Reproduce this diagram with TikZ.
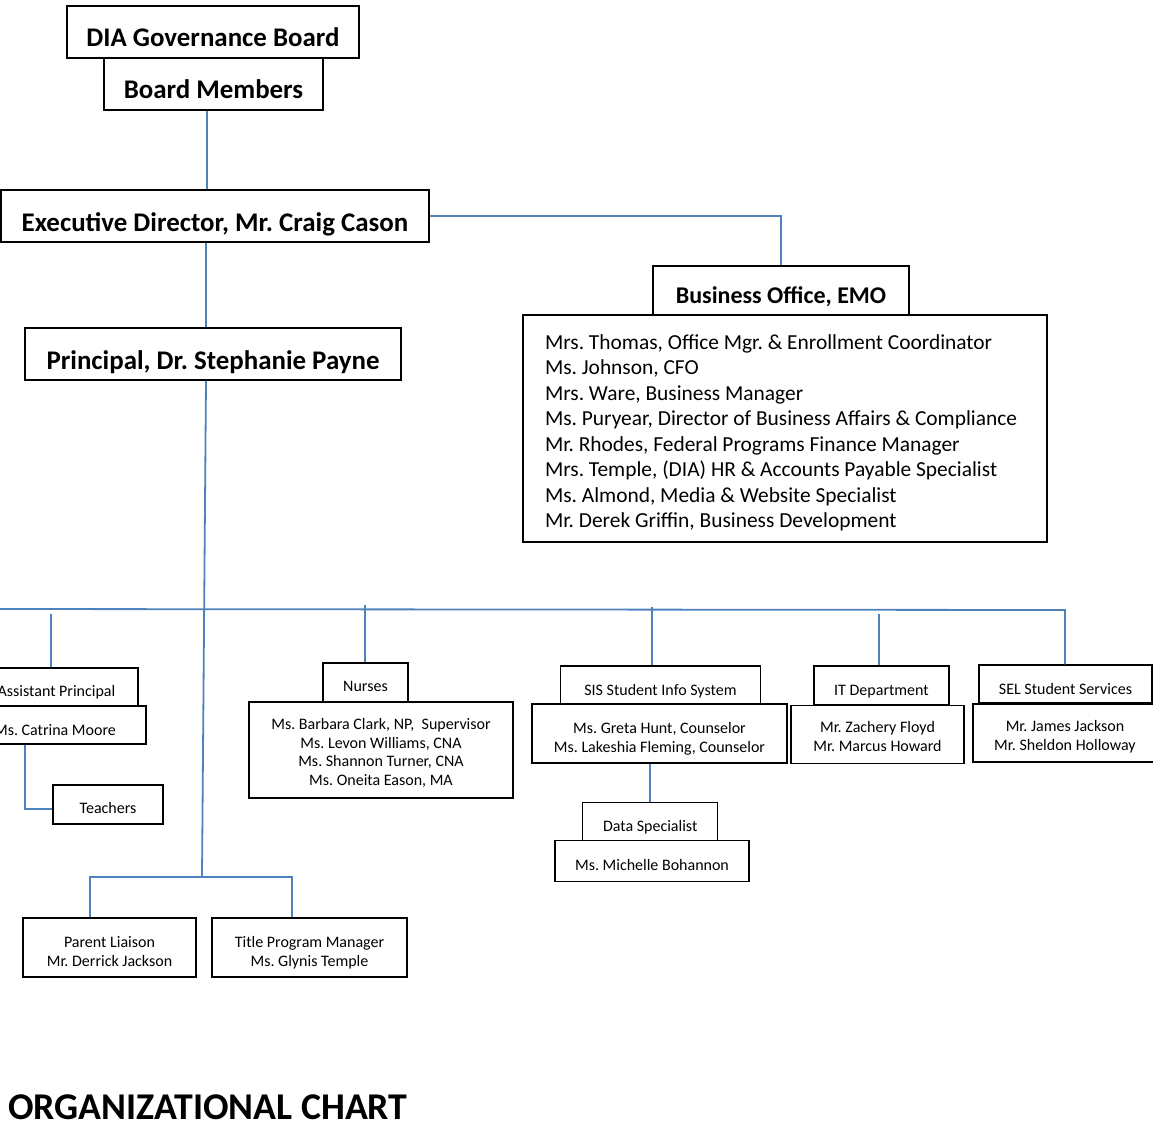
\documentclass[tikz,border=0pt]{standalone}
\usepackage{fontspec}
\setmainfont{Carlito}
\definecolor{linkblue}{RGB}{79,129,189}
\frenchspacing
\begin{document}
\begin{tikzpicture}[x=1pt,y=-1pt,
  box/.style={draw=black, line width=1.5pt, inner sep=0pt, align=center},
  conn/.style={draw=linkblue, line width=1.8pt},
  tx/.style 2 args={text height=#1, text depth=#2},
  big/.style={font=\fontsize{26.9}{32}\selectfont\bfseries},
  mid/.style={font=\fontsize{24}{29}\selectfont\bfseries},
  small/.style={font=\fontsize{16}{18.8}\selectfont},
  smallb/.style={font=\fontsize{16}{19.5}\selectfont}]
\useasboundingbox (0,0) rectangle (1153,1124);

% top boxes
\node[box,big,minimum width=292pt,minimum height=52pt,tx={29.4pt}{0pt}] (dia) at (213,32) {DIA Governance Board};
\node[box,big,minimum width=219pt,minimum height=52pt,tx={28.6pt}{0pt}] (board) at (213.5,84) {Board Members};
\node[box,big,minimum width=428pt,minimum height=52pt,tx={30pt}{0pt}] (exec) at (215,216) {Executive Director, Mr. Craig Cason};
\node[box,big,minimum width=376pt,minimum height=52pt,tx={31pt}{0pt}] (principal) at (213,354) {Principal, Dr. Stephanie Payne};
\node[box,mid,minimum width=256pt,minimum height=49pt,tx={26pt}{0pt}] (bizhdr) at (781,290.5) {Business Office, EMO};
\node[box,font=\fontsize{21.4}{25.5}\selectfont,align=flush left,text width=480pt,inner xsep=22pt,inner ysep=0pt,minimum height=227pt,tx={20pt}{178.4pt}] (bizlist) at (785,428.5)
 {\mbox{Mrs. Thomas, Office Mgr. \& Enrollment Coordinator}\\
  \mbox{Ms. Johnson, CFO}\\
  \mbox{Mrs. Ware, Business Manager}\\
  \mbox{Ms. Puryear, Director of Business Affairs \& Compliance}\\
  \mbox{Mr. Rhodes, Federal Programs Finance Manager}\\
  \mbox{Mrs. Temple, (DIA) HR \& Accounts Payable Specialist}\\
  \mbox{Ms. Almond, Media \& Website Specialist}\\
  \mbox{Mr. Derek Griffin, Business Development}};

% second level
\node[box,small,minimum width=163pt,minimum height=38pt,tx={18pt}{0pt}] (ap) at (56.5,687) {Assistant Principal};
\node[box,small,minimum width=182pt,minimum height=38pt,tx={20pt}{0pt}] (catrina) at (55,725) {Ms. Catrina Moore};
\node[box,small,minimum width=110pt,minimum height=39pt,tx={17pt}{0pt}] (teachers) at (108,804.5) {Teachers};

\node[box,small,minimum width=85pt,minimum height=39pt,tx={18pt}{0pt}] (nurses) at (365.5,682.5) {Nurses};
\node[box,small,minimum width=264pt,minimum height=96pt,tx={71.4pt}{0pt}] (nurselist) at (381,750)
 {Ms. Barbara Clark, NP,~ Supervisor\\Ms. Levon Williams, CNA\\Ms. Shannon Turner, CNA\\Ms. Oneita Eason, MA};

\node[box,small,minimum width=200pt,minimum height=38pt,tx={20pt}{0pt}] (sishdr) at (660.5,685) {SIS Student Info System};
\node[box,smallb,minimum width=255pt,minimum height=59pt,tx={38.4pt}{0pt}] (sislist) at (659.5,733.5)
 {Ms. Greta Hunt, Counselor\\Ms. Lakeshia Fleming, Counselor};
\node[box,small,minimum width=135pt,minimum height=38.4pt,tx={20pt}{0pt}] (dataspec) at (650.2,821.5) {Data Specialist};
\node[box,small,minimum width=194pt,minimum height=41pt,tx={17.6pt}{0pt}] (michelle) at (652,861.2) {Ms. Michelle Bohannon};

\node[box,small,minimum width=135pt,minimum height=39pt,tx={19pt}{0pt}] (ithdr) at (881.5,685.5) {IT Department};
\node[box,smallb,minimum width=173pt,minimum height=58pt,tx={34.4pt}{0pt}] (itlist) at (877.5,734.5)
 {Mr. Zachery Floyd\\Mr. Marcus Howard};

\node[box,small,minimum width=173pt,minimum height=38pt,tx={20pt}{0pt}] (selhdr) at (1065.5,684) {SEL Student Services};
\node[box,smallb,minimum width=184pt,minimum height=58.3pt,tx={35.4pt}{0pt}] (sellist) at (1065,733)
 {Mr. James Jackson\\Mr. Sheldon Holloway};

\node[box,small,minimum width=173pt,minimum height=59pt,tx={37pt}{0pt}] (parent) at (109.5,947.5)
 {Parent Liaison\\Mr. Derrick Jackson};
\node[box,small,minimum width=195pt,minimum height=59pt,tx={37pt}{0pt}] (titlepm) at (309.5,947.5)
 {Title Program Manager\\Ms. Glynis Temple};

\node[anchor=base west,inner sep=0pt,font=\fontsize{37.8}{44}\selectfont\bfseries] (orgtitle) at (8,1119) {ORGANIZATIONAL CHART};

% helper coordinates
\coordinate (v207) at (207,0);
\coordinate (v206) at (206,0);
\coordinate (pj) at (202,877);
\coordinate (busL) at (-5,609);
\coordinate (busR) at (1065,610);
\coordinate (apTop) at (51,614);
\coordinate (nuTop) at (365,605);
\coordinate (sisTop) at (652,607);
\coordinate (itTop) at (879,614);
\coordinate (c25) at (25,0);
\coordinate (t809) at (0,809);
\coordinate (d650) at (650,0);
\coordinate (l90) at (90,0);
\coordinate (r292) at (292,0);

% connectors
\draw[conn] (board.south -| v207) -- (exec.north -| v207);
\draw[conn] (exec.east) -| (bizhdr.north);
\draw[conn] (exec.south -| v206) -- (principal.north -| v206);
\draw[conn] (principal.south -| v206) -- (pj);
\draw[conn] (busL) -- (busR) -- (selhdr.north -| busR);
\draw[conn] (apTop) -- (ap.north -| apTop);
\draw[conn] (nuTop) -- (nurses.north -| nuTop);
\draw[conn] (sisTop) -- (sishdr.north -| sisTop);
\draw[conn] (itTop) -- (ithdr.north -| itTop);
\draw[conn] (catrina.south -| c25) |- (teachers.west |- t809);
\draw[conn] (sislist.south -| d650) -- (dataspec.north -| d650);
\draw[conn] (parent.north -| l90) |- (pj) -| (titlepm.north -| r292);
\end{tikzpicture}
\end{document}
